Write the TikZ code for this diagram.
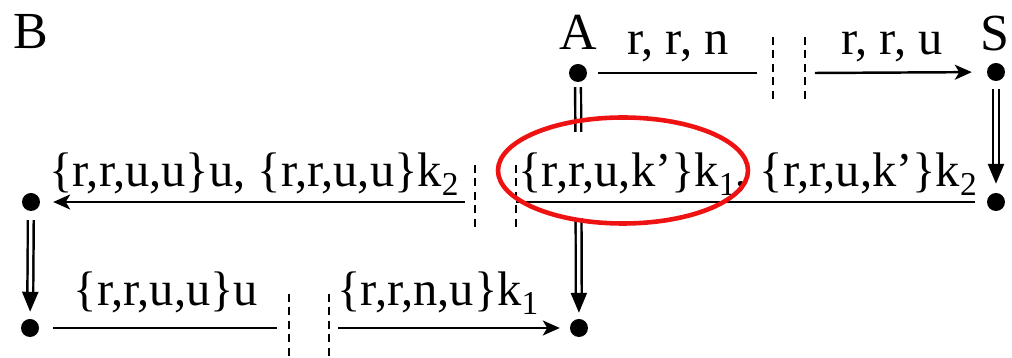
\documentclass[tikz,border=0pt]{standalone}
\usepackage{fontspec}
\setmainfont{Liberation Serif}
\usetikzlibrary{arrows.meta}
\definecolor{ringred}{RGB}{238,18,18}
\newcommand{\ksub}[1]{k\raisebox{-0.17em}{\fontsize{9.5}{10}\selectfont #1}}

\begin{document}
\begin{tikzpicture}[
  font=\fontsize{13.8}{16}\selectfont,
  dot/.style={circle, fill, minimum size=0.18cm, inner sep=0pt},
  party/.style={anchor=base, inner sep=0pt, font=\fontsize{14.8}{17}\selectfont},
  msg/.style={anchor=base, inner sep=0pt},
  flow/.style={line width=0.7pt},
  sent/.style={flow, -{Stealth[length=0.17cm, width=0.15cm, inset=0.045cm]}},
  cut/.style={line width=0.65pt, dash pattern=on 0.08cm off 0.055cm},
  pass/.style={line width=0.7pt, double, double distance=0.95pt, -{Triangle[length=0.2cm, width=0.16cm]}},
  ring/.style={draw=ringred, line width=1.3pt}
]
\useasboundingbox (0,0) rectangle (10.12,3.58);

% parties
\node[party] (Bn) at (0.31,3.09) {B};
\node[party] (An) at (5.78,3.08) {A};
\node[party] (Sn) at (9.95,3.07) {S};

% points
\node[dot] (a) at (5.78,2.85) {};
\node[dot] (s) at (9.96,2.86) {};
\node[dot] (r) at (9.96,1.56) {};
\node[dot] (l) at (0.31,1.56) {};
\node[dot] (d) at (0.30,0.30) {};
\node[dot] (e) at (5.79,0.30) {};

% ends at the cuts
\coordinate (t1) at (7.57,2.85);
\coordinate (t2) at (8.15,2.85);
\coordinate (m1) at (4.65,1.56);
\coordinate (m2) at (5.16,1.56);
\coordinate (b1) at (2.77,0.30);
\coordinate (b2) at (3.38,0.30);

\draw[pass, shorten <=0.045cm, shorten >=0.055cm] (a) -- (e);
\draw[pass, shorten <=0.075cm, shorten >=0.085cm] (s) -- (r);
\draw[pass, shorten <=0.085cm, shorten >=0.065cm] (l) -- (d);

% messages
\node[msg] (rrn) at (6.78,3.03) {r, r, n};
\node[msg] (rru) at (8.92,3.03) {r, r, u};
\node[msg] (mleft) at (2.54,1.71) {\{r,r,u,u\}u, \{r,r,u,u\}\ksub{2}};
\node[msg, anchor=base west, fill=white, text height=0.55cm, text depth=0.31cm] (mright) at (5.18,1.71)
  {\{r,r,u,k'\}\ksub{1}, \{r,r,u,k'\}\ksub{2}};
\node[msg] (bleft) at (1.66,0.52) {\{r,r,u,u\}u};
\node[msg] (bright) at (4.38,0.52) {\{r,r,n,u\}\ksub{1}};

\draw[flow, shorten <=0.105cm] (a) -- (t1);
\draw[sent, shorten >=0.145cm] (t2) -- (s);
\draw[flow, shorten <=0.115cm] (r) -- (m2);
\draw[sent, shorten >=0.125cm] (m1) -- (l);
\draw[flow, shorten <=0.135cm] (d) -- (b1);
\draw[sent, shorten >=0.095cm] (b2) -- (e);

% cuts
\draw[cut] (7.73,3.21) -- (7.73,2.59);
\draw[cut] (8.05,3.21) -- (8.05,2.59);
\draw[cut] (4.75,1.93) -- (4.75,1.28);
\draw[cut] (5.16,1.93) -- (5.16,1.28);
\draw[cut] (2.89,0.64) -- (2.89,0);
\draw[cut] (3.29,0.64) -- (3.29,0);

\draw[ring] (6.23,1.875) ellipse [x radius=1.25, y radius=0.53];
\end{tikzpicture}
\end{document}
